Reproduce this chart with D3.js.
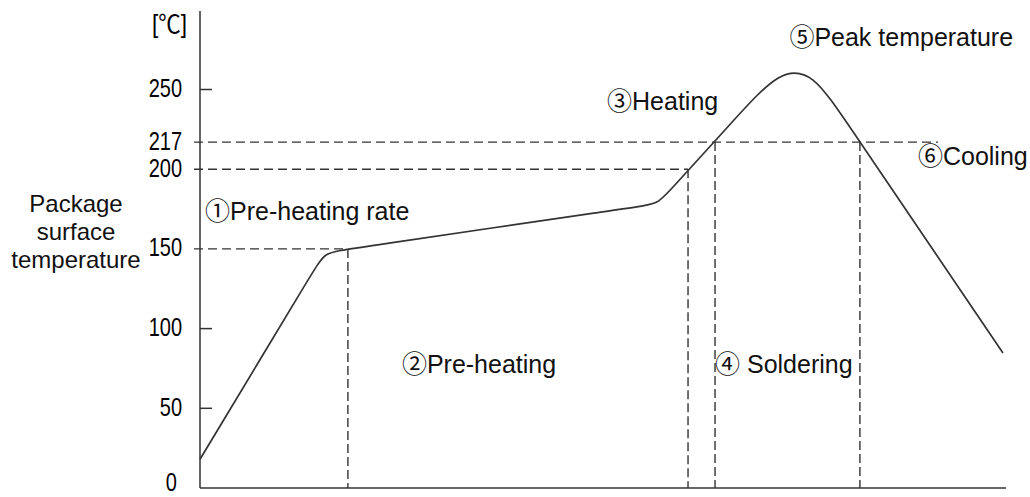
<!DOCTYPE html>
<html>
<head>
<meta charset="utf-8">
<script src="https://cdn.jsdelivr.net/npm/d3@7"></script>
<style>
  body { margin: 0; background: #fff; }
  text { font-family: "Liberation Sans", Arial, "Noto Sans CJK JP", sans-serif; fill: #111; }
  .tick-label { fill: #000; }
</style>
</head>
<body>
<div id="chart"></div>
<script>
// temperature axis labels
const yTicks = [0, 50, 100, 150, 200, 217, 250];
const solidTicks = [50, 100, 250];

// reflow profile, spline control points (time units, degC)
const profileTime = [0, 56.6, 61.8, 72.0, 218.3, 227.3, 234.2, 265.5, 287.8, 304.2, 319.8, 398.5];
const profileTemp = [18, 136.8, 147.7, 149.6, 176.7, 178.2, 188.1, 231.5, 262.6, 260.6, 231.5, 84.7];

// dashed guides: level, where the horizontal guide ends
const guideTemps = [150, 200, 217];
const guideEnds = [73.4, 242.2, 366.3];
// dashed verticals: time, top temp
const dropTimes = [73.4, 242.2, 255.6, 327.5];
const dropTemps = [150, 200, 217, 217];

const labelTexts = ['⑤Peak temperature', '③Heating', '⑥Cooling', '①Pre-heating rate', '②Pre-heating', '④ Soldering'];
const labelTime = [292.5, 202, 356.3, 2.5, 100.2, 255.6];
const labelTemp = [277.3, 237.1, 202.6, 168.1, 72.1, 72.1];

const yTitle = ['Package', 'surface', 'temperature'];

const width = 1030;
const height = 497;

const svg = d3.select('#chart').append('svg')
  .attr('width', width)
  .attr('height', height);

const x = d3.scaleLinear().domain([0, 400]).range([200, 1006]);
const y = d3.scaleLinear().domain([0, 250]).range([488, 89.5]);

const ink = '#333';

// axes
svg.append('line')
  .attr('x1', x(0)).attr('x2', x(0))
  .attr('y1', 11).attr('y2', y(0))
  .attr('stroke', ink).attr('stroke-width', 1.5);
svg.append('line')
  .attr('x1', x(0)).attr('x2', x(400))
  .attr('y1', y(0)).attr('y2', y(0))
  .attr('stroke', ink).attr('stroke-width', 1.5);

svg.selectAll('.tick-mark')
  .data(solidTicks)
  .enter().append('line')
  .attr('class', 'tick-mark')
  .attr('x1', x(0)).attr('x2', x(0) + 12)
  .attr('y1', d => y(d)).attr('y2', d => y(d))
  .attr('stroke', ink).attr('stroke-width', 1.5);

// narrow digits like the original's gothic face; 0 sits on the bottom edge
svg.selectAll('.tick-label')
  .data(yTicks)
  .enter().append('text')
  .attr('class', 'tick-label')
  .attr('transform', d => `translate(${d === 0 ? 177 : 182},${y(d)}) scale(0.8,1)`)
  .attr('dy', d => d === 0 ? '0.12em' : '0.3em')
  .attr('text-anchor', 'end')
  .attr('font-size', 25)
  .text(d => d);

svg.append('text')
  .attr('class', 'tick-label')
  .attr('transform', 'translate(187,33) scale(0.9,1)')
  .attr('text-anchor', 'end')
  .attr('font-size', 25)
  .text('[℃]');

svg.append('text')
  .attr('x', 76)
  .attr('y', 212)
  .attr('text-anchor', 'middle')
  .attr('font-size', 24)
  .selectAll('tspan')
  .data(yTitle)
  .enter().append('tspan')
  .attr('x', 76)
  .attr('dy', (d, i) => i === 0 ? 0 : 28)
  .text(d => d);

// dashed guides
svg.selectAll('.guide-h')
  .data(guideTemps)
  .enter().append('line')
  .attr('class', 'guide-h')
  .attr('x1', x(0) - 6)
  .attr('x2', (d, i) => x(guideEnds[i]))
  .attr('y1', d => y(d)).attr('y2', d => y(d))
  .attr('stroke', ink).attr('stroke-width', 1.4)
  .attr('stroke-dasharray', '9,5');

svg.selectAll('.guide-v')
  .data(dropTimes)
  .enter().append('line')
  .attr('class', 'guide-v')
  .attr('x1', d => x(d)).attr('x2', d => x(d))
  .attr('y1', (d, i) => y(dropTemps[i]))
  .attr('y2', y(0))
  .attr('stroke', ink).attr('stroke-width', 1.4)
  .attr('stroke-dasharray', '9,4');

// profile curve
const line = d3.line()
  .x(d => x(d[0]))
  .y(d => y(d[1]))
  .curve(d3.curveBasis);

svg.append('path')
  .datum(profileTime.map((t, i) => [t, profileTemp[i]]))
  .attr('d', line)
  .attr('fill', 'none')
  .attr('stroke', ink)
  .attr('stroke-width', 1.7);

// stage labels
svg.selectAll('.stage')
  .data(labelTexts)
  .enter().append('text')
  .attr('class', 'stage')
  .attr('x', (d, i) => x(labelTime[i]))
  .attr('y', (d, i) => y(labelTemp[i]))
  .attr('font-size', 25)
  .text(d => d);
</script>
</body>
</html>
